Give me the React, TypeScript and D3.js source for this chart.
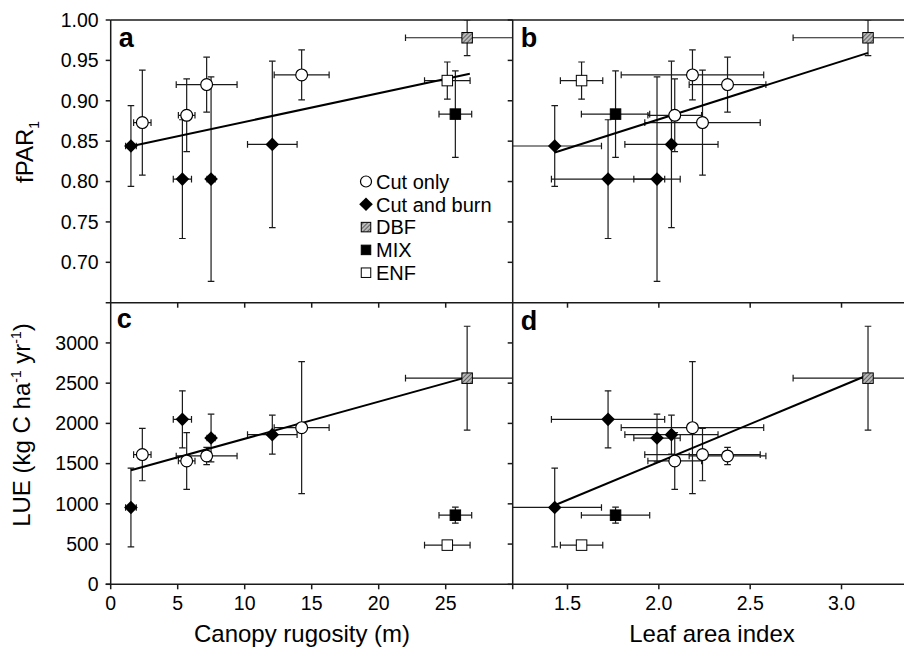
import React from 'react';
import * as d3 from 'd3';

// ---------- data ----------
const groups = ['Cut only', 'Cut and burn', 'DBF', 'MIX', 'ENF'];
const pointGroup = ['Cut only', 'Cut only', 'Cut only', 'Cut only', 'Cut and burn', 'Cut and burn', 'Cut and burn', 'Cut and burn', 'DBF', 'MIX', 'ENF'];
const rugosity = [2.36, 5.67, 7.16, 14.25, 1.51, 5.35, 7.49, 12.06, 26.6, 25.72, 25.12];
const rugosityErr = [0.65, 0.62, 2.27, 2.05, 0.4, 0.68, 0.3, 1.85, 4.6, 1.22, 1.7];
const lai = [2.239, 2.087, 2.376, 2.184, 1.43, 1.722, 1.99, 2.069, 3.145, 1.763, 1.577];
const laiErr = [0.316, 0.147, 0.21, 0.39, 0.256, 0.31, 0.127, 0.255, 0.41, 0.187, 0.116];
const fpar = [0.873, 0.882, 0.92, 0.932, 0.844, 0.803, 0.803, 0.846, 0.978, 0.8835, 0.925];
const fparErr = [0.065, 0.045, 0.034, 0.031, 0.05, 0.0735, 0.1265, 0.103, 0.022, 0.0535, 0.023];
const lue = [1612, 1533, 1595, 1947, 955, 2050, 1818, 1860, 2562, 859, 487];
const lueErr = [325, 352, 107, 820, 490, 355, 296, 242, 645, 99, 20];

const fitSlope = [0.00355, 0.0719, 46.15, 943.5];
const fitIntercept = [0.8384, 0.7332, 1347.3, -366.2];
const fitXMin = [1.51, 1.43, 1.51, 1.43];
const fitXMax = [26.8, 3.145, 26.6, 3.145];

const fparTicks = [0.7, 0.75, 0.8, 0.85, 0.9, 0.95, 1.0];
const lueTicks = [0, 500, 1000, 1500, 2000, 2500, 3000];
const rugTicks = [0, 5, 10, 15, 20, 25];
const laiTicks = [1.5, 2.0, 2.5, 3.0];
const panelLetters = ['a', 'b', 'c', 'd'];

// ---------- layout ----------
const W = 904, H = 649;
const X0 = 110.7, XM = 512.7, XR = 904;
const YT = 20, YM = 302.7, YB = 584.3;
const FONT = '"Liberation Sans", Arial, Helvetica, sans-serif';
const INK = '#1a1a1a';

const xRug = d3.scaleLinear().domain([0, 30]).range([X0, XM]);
const xLai = d3.scaleLinear().domain([1.2, 3.342]).range([XM, XR]);
const yF = d3.scaleLinear().domain([0.65, 1.0]).range([YM, YT]);
const yL = d3.scaleLinear().domain([0, 3500]).range([YB, YM]);

function Marker({ g, x, y, legend }: { g: string; x: number; y: number; legend?: boolean }) {
  if (g === 'Cut only') {
    return <circle cx={x} cy={y} r={legend ? 5.5 : 5.9} fill="#fff" stroke="#000" strokeWidth={1.2} />;
  }
  if (g === 'Cut and burn') {
    const r = legend ? 6.8 : 6.8;
    return <path d={`M${x},${y - r}L${x + r},${y}L${x},${y + r}L${x - r},${y}Z`} fill="#000" />;
  }
  const s = legend ? 9.5 : 10.5;
  const fill = g === 'DBF' ? 'url(#hatch)' : g === 'MIX' ? '#000' : '#fff';
  return <rect x={x - s / 2} y={y - s / 2} width={s} height={s} fill={fill} stroke="#000" strokeWidth={1} />;
}

export default function App() {
  const panels = [
    { xs: rugosity, xe: rugosityErr, ys: fpar, ye: fparErr, sx: xRug, sy: yF, clip: [X0, YT, XM, YM] },
    { xs: lai, xe: laiErr, ys: fpar, ye: fparErr, sx: xLai, sy: yF, clip: [XM, YT, XR, YM] },
    { xs: rugosity, xe: rugosityErr, ys: lue, ye: lueErr, sx: xRug, sy: yL, clip: [X0, YM, XM, YB] },
    { xs: lai, xe: laiErr, ys: lue, ye: lueErr, sx: xLai, sy: yL, clip: [XM, YM, XR, YB] },
  ];
  const cap = 3.3;
  const idx = d3.range(pointGroup.length);
  const letterPos = [
    [X0 + 8, YT + 27], [XM + 8, YT + 27], [X0 + 6, YM + 25], [XM + 8, YM + 27],
  ];

  return (
    <svg width={W} height={H} style={{ position: 'absolute', left: 0, top: 0, background: '#fff' }}
      fontFamily={FONT}>
      <defs>
        <pattern id="hatch" width="3" height="3" patternUnits="userSpaceOnUse" patternTransform="rotate(45)">
          <rect width="3" height="3" fill="#b8b8b8" />
          <line x1="0" y1="0" x2="0" y2="3" stroke="#333" strokeWidth="1.3" />
        </pattern>
        {panels.map((p, i) => (
          <clipPath id={`clip${i}`} key={i}>
            <rect x={p.clip[0]} y={p.clip[1]} width={p.clip[2] - p.clip[0]} height={p.clip[3] - p.clip[1]} />
          </clipPath>
        ))}
      </defs>
      <rect x={0} y={0} width={W} height={H} fill="#fff" />

      {/* error bars */}
      {panels.map((p, i) => (
        <g key={`eb${i}`} clipPath={`url(#clip${i})`} stroke={INK} strokeWidth={1.2} fill="none">
          {idx.map((k) => {
            const cx = p.sx(p.xs[k]), cy = p.sy(p.ys[k]);
            const x1 = p.sx(p.xs[k] - p.xe[k]), x2 = p.sx(p.xs[k] + p.xe[k]);
            const y1 = p.sy(p.ys[k] - p.ye[k]), y2 = p.sy(p.ys[k] + p.ye[k]);
            return (
              <g key={k}>
                <line x1={x1} x2={x2} y1={cy} y2={cy} />
                <line x1={x1} x2={x1} y1={cy - cap} y2={cy + cap} />
                <line x1={x2} x2={x2} y1={cy - cap} y2={cy + cap} />
                <line x1={cx} x2={cx} y1={y1} y2={y2} />
                <line x1={cx - cap} x2={cx + cap} y1={y1} y2={y1} />
                <line x1={cx - cap} x2={cx + cap} y1={y2} y2={y2} />
              </g>
            );
          })}
        </g>
      ))}

      {/* fit lines */}
      {panels.map((p, i) => (
        <line key={`fit${i}`} clipPath={`url(#clip${i})`}
          x1={p.sx(fitXMin[i])} y1={p.sy(fitIntercept[i] + fitSlope[i] * fitXMin[i])}
          x2={p.sx(fitXMax[i])} y2={p.sy(fitIntercept[i] + fitSlope[i] * fitXMax[i])}
          stroke="#000" strokeWidth={2} />
      ))}

      {/* markers */}
      {panels.map((p, i) => (
        <g key={`mk${i}`} clipPath={`url(#clip${i})`}>
          {idx.map((k) => (
            <Marker key={k} g={pointGroup[k]} x={p.sx(p.xs[k])} y={p.sy(p.ys[k])} />
          ))}
        </g>
      ))}

      {/* frame / axes */}
      <g stroke={INK} strokeWidth={1.5} fill="none">
        <line x1={X0} x2={X0} y1={YT} y2={YB + 5} />
        <line x1={XM} x2={XM} y1={YT} y2={YB + 5} />
        <line x1={X0} x2={XR} y1={YT} y2={YT} />
        <line x1={X0 - 5} x2={XR} y1={YM} y2={YM} />
        <line x1={X0 - 5} x2={XR} y1={YB} y2={YB} />
        {fparTicks.map((t) => (
          <g key={`fy${t}`}>
            <line x1={X0 - 5} x2={X0} y1={yF(t)} y2={yF(t)} />
            <line x1={XM - 5} x2={XM} y1={yF(t)} y2={yF(t)} />
          </g>
        ))}
        {lueTicks.map((t) => (
          <g key={`ly${t}`}>
            <line x1={X0 - 5} x2={X0} y1={yL(t)} y2={yL(t)} />
            <line x1={XM - 5} x2={XM} y1={yL(t)} y2={yL(t)} />
          </g>
        ))}
        {rugTicks.filter((t) => t > 0).map((t) => (
          <g key={`rx${t}`}>
            <line x1={xRug(t)} x2={xRug(t)} y1={YM} y2={YM + 5} />
            <line x1={xRug(t)} x2={xRug(t)} y1={YB} y2={YB + 5} />
          </g>
        ))}
        {laiTicks.map((t) => (
          <g key={`lx${t}`}>
            <line x1={xLai(t)} x2={xLai(t)} y1={YM} y2={YM + 5} />
            <line x1={xLai(t)} x2={xLai(t)} y1={YB} y2={YB + 5} />
          </g>
        ))}
      </g>

      {/* tick labels */}
      <g fontSize={19.5} fill="#000">
        {fparTicks.map((t) => (
          <text key={`ft${t}`} x={X0 - 12} y={yF(t)} dy="0.35em" textAnchor="end">{d3.format('.2f')(t)}</text>
        ))}
        {lueTicks.map((t) => (
          <text key={`lt${t}`} x={X0 - 12} y={yL(t)} dy="0.35em" textAnchor="end">{t}</text>
        ))}
        {rugTicks.map((t) => (
          <text key={`rt${t}`} x={xRug(t)} y={YB + 26} textAnchor="middle">{t}</text>
        ))}
        {laiTicks.map((t) => (
          <text key={`at${t}`} x={xLai(t)} y={YB + 26} textAnchor="middle">{d3.format('.1f')(t)}</text>
        ))}
      </g>

      {/* axis titles */}
      <g fontSize={24} fill="#000">
        <text x={302} y={642} textAnchor="middle">Canopy rugosity (m)</text>
        <text x={712} y={642} textAnchor="middle">Leaf area index</text>
        <text transform={`translate(33,152) rotate(-90)`} textAnchor="middle">
          fPAR<tspan fontSize={14} dy={6}>1</tspan>
        </text>
        <text transform={`translate(30,425) rotate(-90)`} textAnchor="middle">
          LUE (kg C ha<tspan fontSize={14} dy={-9}>-1</tspan><tspan dy={9}> yr</tspan><tspan fontSize={14} dy={-9}>-1</tspan><tspan dy={9}>)</tspan>
        </text>
      </g>

      {/* panel letters */}
      <g fontSize={27} fontWeight="bold" fill="#000">
        {panelLetters.map((l, i) => (
          <text key={l} x={letterPos[i][0]} y={letterPos[i][1]}>{l}</text>
        ))}
      </g>

      {/* legend */}
      <g>
        {groups.map((g, i) => {
          const y = 181.5 + i * 22.8;
          return (
            <g key={g}>
              <Marker g={g} x={366} y={y} legend />
              <text x={376} y={y} dy="0.36em" fontSize={20} fill="#000">{g}</text>
            </g>
          );
        })}
      </g>
    </svg>
  );
}
